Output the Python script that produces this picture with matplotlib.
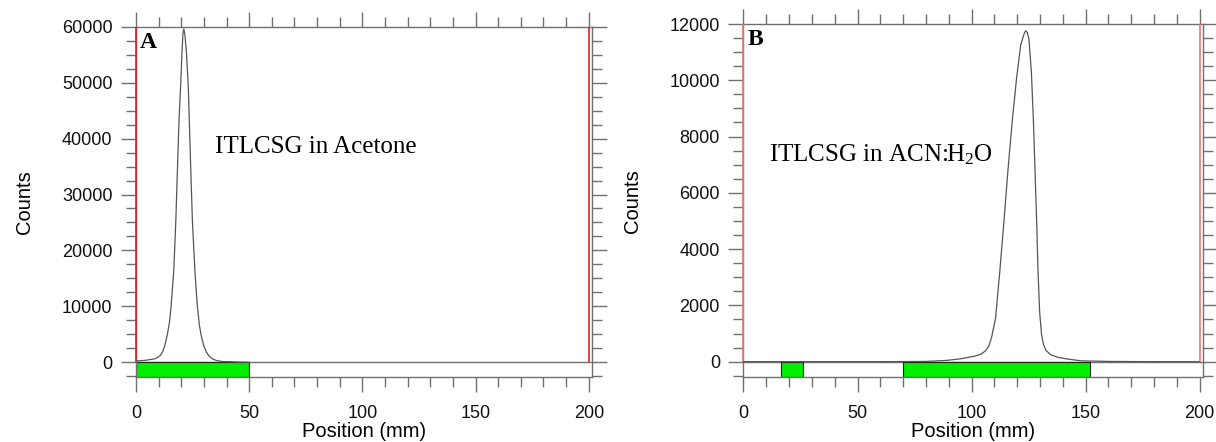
import matplotlib
matplotlib.use("Agg")
import matplotlib.pyplot as plt
from matplotlib.ticker import MultipleLocator

plt.rcParams['font.family'] = ['Liberation Sans', 'DejaVu Sans']
plt.rcParams['mathtext.fontset'] = 'custom'
plt.rcParams['mathtext.rm'] = 'Liberation Serif'
plt.rcParams['mathtext.it'] = 'Liberation Serif'

# panel A: ITLC-SG in acetone
pos_a = [0, 4, 8, 9.5, 10.8, 11.8, 12.5, 13.2, 14.0, 14.8, 15.5, 16.7, 17.6, 18.3, 19.0, 19.7,
         20.3, 20.7, 21.1, 21.6, 22.3, 23.1, 24.2, 24.9, 26.0, 27.0, 28.0, 29.0, 30.0, 31.0,
         32.3, 33.8, 35.5, 38.0, 45.0, 50.0]
counts_a = [250, 350, 600, 850, 1250, 1900, 2700, 3800, 5300, 7200, 10000, 16500, 25400, 34400, 43300, 49300,
            55300, 58600, 59600, 58600, 55300, 49300, 34400, 25400, 16500, 10500, 6600, 4400, 2900, 1900,
            1100, 600, 330, 150, 50, 0]
regions_a = [(0, 50)]

# panel B: ITLC-SG in ACN:H2O
pos_b = [0, 20, 40, 60, 80, 89, 95, 101, 104, 106, 107.6, 108.8, 110.5, 112.4, 114.2, 115.9,
         117.8, 119.7, 121.5, 123.0, 123.7, 124.4, 125.1, 126.2, 127.1, 127.8, 128.5, 129.1, 129.8,
         130.6, 131.5, 132.6, 134.6, 138, 142, 148, 160, 180, 200]
counts_b = [0, 0, 0, 0, 10, 45, 100, 190, 260, 380, 560, 880, 1550, 3250, 5010, 6780,
            8540, 10070, 11250, 11650, 11760, 11700, 11480, 10300, 8540, 6780, 5010, 3250, 1800,
            1000, 620, 400, 250, 150, 95, 30, 10, 0, 0]
regions_b = [(16.5, 26.1), (70.1, 151.7)]

roi_limits = [0, 200]

panels = [
    dict(rect=[0.11184, 0.14638, 0.37475, 0.79321], x=pos_a, y=counts_a, regions=regions_a,
         ylim=(-2680, 60000), major=10000, minor=2500, letter='A',
         label='ITLCSG in Acetone', label_xy=(34.9, 37400), red='#e02020'),
    dict(rect=[0.61143, 0.14638, 0.37763, 0.79932], x=pos_b, y=counts_b, regions=regions_b,
         ylim=(-555, 12000), major=2000, minor=500, letter='B',
         label='ITLCSG in ACN:H$_2$O', label_xy=(11.2, 7110), red='#e87878'),
]

fig = plt.figure(figsize=(12.16, 4.42), dpi=100)
grey = '#707070'

for p in panels:
    ax = fig.add_axes(p['rect'])
    ymin, ymax = p['ylim']
    ax.set_xlim(0, 201.3)
    ax.set_ylim(ymin, ymax)

    # green integration regions in the strip below zero
    for x0, x1 in p['regions']:
        ax.fill_between([x0, x1], [ymin, ymin], [0, 0], facecolor='#00ee00',
                        edgecolor='#202020', linewidth=0.8, zorder=2)

    ax.axhline(0, color=grey, lw=1.0, zorder=1)
    ax.vlines(roi_limits, 0, ymax, colors=p['red'], lw=1.2, zorder=3, clip_on=False)
    ax.plot(p['x'], p['y'], color='#555555', lw=0.9, zorder=4)

    for s in ax.spines.values():
        s.set_color(grey)
        s.set_linewidth(1.0)
        s.set_zorder(2.5)

    ax.xaxis.set_major_locator(MultipleLocator(50))
    ax.xaxis.set_minor_locator(MultipleLocator(10))
    ax.yaxis.set_major_locator(MultipleLocator(p['major']))
    ax.yaxis.set_minor_locator(MultipleLocator(p['minor']))
    ax.tick_params(which='both', direction='out', top=True, right=True,
                   color=grey, width=1.0, labelsize=13, labelcolor='#111111')
    ax.tick_params(which='major', length=11)
    ax.tick_params(axis='x', which='major', pad=9)
    ax.tick_params(axis='y', which='major', pad=6)
    ax.tick_params(which='minor', length=7)
    ax.set_yticks([t for t in ax.get_yticks() if 0 <= t <= ymax])

    ax.set_xlabel('Position (mm)', fontsize=14.5, labelpad=0)
    ax.set_ylabel('Counts', fontsize=14.5, labelpad=20)

    ax.text(0.008, 0.985, p['letter'], transform=ax.transAxes, ha='left', va='top',
            fontsize=17, fontweight='bold', family='Liberation Serif')
    ax.text(p['label_xy'][0], p['label_xy'][1], p['label'], ha='left', va='baseline',
            fontsize=18, family='Liberation Serif')

fig.savefig('out.png', dpi=100)
